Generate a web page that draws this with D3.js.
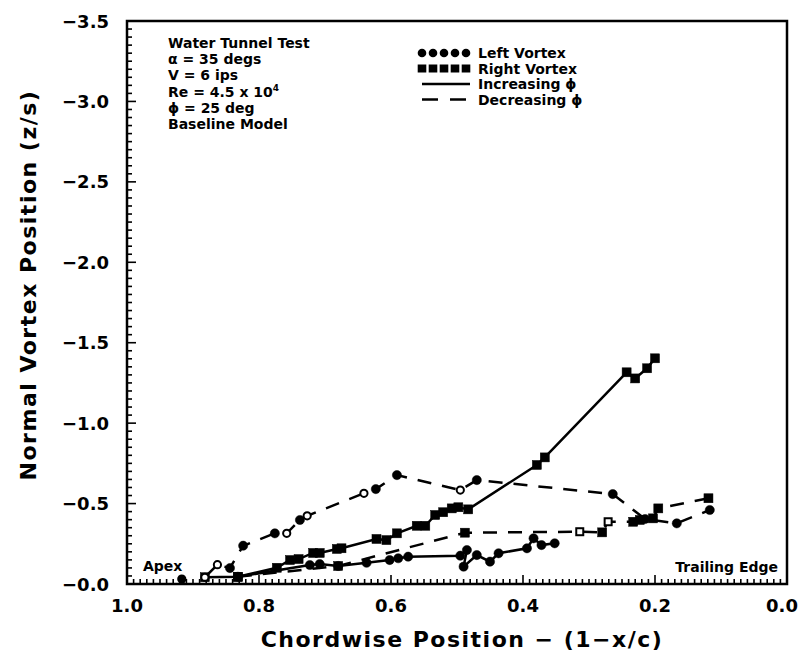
<!DOCTYPE html>
<html>
<head>
<meta charset="utf-8">
<script src="https://cdn.jsdelivr.net/npm/d3@7"></script>
<style>
  html, body { margin: 0; padding: 0; background: #fff; }
  svg { display: block; }
  text { font-family: "DejaVu Sans", "Liberation Sans", sans-serif; font-weight: bold; fill: #000; }
</style>
</head>
<body>
<svg id="chart" width="801" height="656"></svg>
<script>
// Chordwise position (1 - x/c) and normal position (z/s) of the vortex cores.
// Left vortex, increasing roll angle (solid line, circles)
const leftIncX = [0.832, 0.723, 0.708, 0.680, 0.637, 0.602, 0.589, 0.574, 0.495, 0.485, 0.490, 0.470, 0.450, 0.437, 0.394, 0.384, 0.372, 0.352];
const leftIncY = [-0.045, -0.118, -0.124, -0.112, -0.132, -0.149, -0.160, -0.170, -0.176, -0.211, -0.108, -0.180, -0.139, -0.191, -0.222, -0.284, -0.242, -0.253];

// Right vortex, increasing roll angle (solid line, squares)
const rightIncX = [0.882, 0.832, 0.773, 0.753, 0.740, 0.718, 0.708, 0.682, 0.675, 0.622, 0.607, 0.591, 0.561, 0.548, 0.533, 0.521, 0.508, 0.498, 0.483, 0.379, 0.367, 0.243, 0.230, 0.212, 0.200];
const rightIncY = [-0.042, -0.045, -0.101, -0.149, -0.155, -0.193, -0.193, -0.218, -0.222, -0.280, -0.273, -0.315, -0.362, -0.362, -0.429, -0.446, -0.470, -0.477, -0.464, -0.740, -0.787, -1.316, -1.278, -1.341, -1.403];

// Left vortex, decreasing roll angle (dashed line, circles; some hollow)
const leftDecX = [0.882, 0.863, 0.844, 0.824, 0.776, 0.758, 0.738, 0.727, 0.641, 0.623, 0.591, 0.495, 0.470, 0.264, 0.215, 0.167, 0.117];
const leftDecY = [-0.042, -0.120, -0.099, -0.238, -0.315, -0.315, -0.398, -0.424, -0.564, -0.590, -0.677, -0.584, -0.646, -0.559, -0.404, -0.377, -0.460];
const leftDecOpen = [true, true, false, false, false, true, false, true, true, false, false, true, false, false, false, false, false];

// Right vortex, decreasing roll angle (dashed line, squares; some hollow)
const rightDecX = [0.832, 0.680, 0.488, 0.314, 0.280, 0.271, 0.233, 0.223, 0.203, 0.195, 0.119];
const rightDecY = [-0.045, -0.112, -0.319, -0.325, -0.321, -0.387, -0.387, -0.398, -0.408, -0.470, -0.533];
const rightDecOpen = [false, false, false, true, false, true, false, false, false, false, false];

// Isolated reading near the apex
const apexX = [0.917];
const apexY = [-0.031];

// Axis ticks
const xTickValues = [1.0, 0.8, 0.6, 0.4, 0.2, 0.0];
const xTickLabels = ["1.0", "0.8", "0.6", "0.4", "0.2", "0.0"];
const yTickValues = [0, -0.5, -1.0, -1.5, -2.0, -2.5, -3.0, -3.5];
const yTickLabels = ["\u22120.0", "\u22120.5", "\u22121.0", "\u22121.5", "\u22122.0", "\u22122.5", "\u22123.0", "\u22123.5"];

// Annotation block and legend
const infoLines = ["Water Tunnel Test", "\u03b1 = 35 degs", "V = 6 ips", "Re = 4.5 x 10", "\u03d5 = 25 deg", "Baseline Model"];
const legendLabels = ["Left Vortex", "Right Vortex", "Increasing \u03d5", "Decreasing \u03d5"];

const svg = d3.select("#chart");
const plotL = 127, plotR = 787, plotT = 21, plotB = 584;

const x = d3.scaleLinear().domain([1.0, 0.0]).range([plotL, plotR]);
const y = d3.scaleLinear().domain([0, -3.5]).range([plotB, plotT]);

// Minor ticks pointing into the plot
const xMinor = d3.range(0, 101).map(i => i / 100);
const yMinor = d3.range(0, 71).map(i => -i / 20);

svg.append("g").selectAll("line").data(xMinor).join("line")
  .attr("x1", d => x(d)).attr("x2", d => x(d))
  .attr("y1", plotB).attr("y2", d => plotB - (Math.abs(Math.round(d * 100) % 20) === 0 ? 9 : 5))
  .attr("stroke", "#000").attr("stroke-width", 1.6);
svg.append("g").selectAll("line").data(yMinor).join("line")
  .attr("y1", d => y(d)).attr("y2", d => y(d))
  .attr("x1", plotL).attr("x2", d => plotL + (Math.abs(Math.round(d * 20) % 10) === 0 ? 9 : 5))
  .attr("stroke", "#000").attr("stroke-width", 1.6);

// Frame
svg.append("rect").attr("x", plotL).attr("y", plotT)
  .attr("width", plotR - plotL).attr("height", plotB - plotT)
  .attr("fill", "none").attr("stroke", "#000").attr("stroke-width", 2.5);

// Tick labels (the last one is pulled in so it stays inside the page)
svg.append("g").selectAll("text").data(xTickValues).join("text")
  .attr("x", d => x(d)).attr("y", 612)
  .attr("dx", d => d === 0 ? -5 : 0)
  .attr("text-anchor", "middle").attr("font-size", 18)
  .text((d, i) => xTickLabels[i]);
svg.append("g").selectAll("text").data(yTickValues).join("text")
  .attr("x", 109).attr("y", d => y(d) + 6.5)
  .attr("text-anchor", "end").attr("font-size", 18)
  .text((d, i) => yTickLabels[i]);

// Axis titles
svg.append("text").attr("x", 462).attr("y", 647)
  .attr("text-anchor", "middle").attr("font-size", 22).attr("letter-spacing", 1.5)
  .text("Chordwise Position  \u2212  (1\u2212x/c)");
svg.append("text").attr("transform", "translate(36,285) rotate(-90)")
  .attr("text-anchor", "middle").attr("font-size", 22).attr("letter-spacing", 1.5)
  .text("Normal Vortex Position  (z/s)");

// Series
const lineGen = d3.line().x(d => x(d[0])).y(d => y(d[1]));
function pts(xs, ys) { return xs.map((v, i) => [v, ys[i]]); }

const series = [
  { xs: leftIncX, ys: leftIncY, dash: null, shape: "circle", open: [] },
  { xs: rightIncX, ys: rightIncY, dash: null, shape: "square", open: [] },
  { xs: leftDecX, ys: leftDecY, dash: "14,11", shape: "circle", open: leftDecOpen },
  { xs: rightDecX, ys: rightDecY, dash: "14,11", shape: "square", open: rightDecOpen }
];

const plot = svg.append("g");
series.forEach(s => {
  plot.append("path").datum(pts(s.xs, s.ys))
    .attr("d", lineGen).attr("fill", "none").attr("stroke", "#000")
    .attr("stroke-width", 2.5).attr("stroke-dasharray", s.dash);
});
series.forEach(s => {
  const data = pts(s.xs, s.ys).map((p, i) => ({ p, open: !!s.open[i] }));
  if (s.shape === "circle") {
    plot.append("g").selectAll("circle").data(data).join("circle")
      .attr("cx", d => x(d.p[0])).attr("cy", d => y(d.p[1]))
      .attr("r", d => d.open ? 3.6 : 4.6)
      .attr("fill", d => d.open ? "#fff" : "#000")
      .attr("stroke", "#000").attr("stroke-width", d => d.open ? 2 : 0.5);
  } else {
    plot.append("g").selectAll("rect").data(data).join("rect")
      .attr("x", d => x(d.p[0]) - (d.open ? 3.5 : 4.5)).attr("y", d => y(d.p[1]) - (d.open ? 3.5 : 4.5))
      .attr("width", d => d.open ? 7 : 9).attr("height", d => d.open ? 7 : 9)
      .attr("fill", d => d.open ? "#fff" : "#000")
      .attr("stroke", "#000").attr("stroke-width", d => d.open ? 2 : 0.5);
  }
});
plot.append("g").selectAll("circle").data(pts(apexX, apexY)).join("circle")
  .attr("cx", d => x(d[0])).attr("cy", d => y(d[1])).attr("r", 4.6).attr("fill", "#000");

// Region labels
svg.append("text").attr("x", 143).attr("y", 571).attr("font-size", 14).text("Apex");
svg.append("text").attr("x", 778).attr("y", 572).attr("text-anchor", "end").attr("font-size", 14).text("Trailing  Edge");

// Test conditions
const info = svg.append("g");
infoLines.forEach((t, i) => {
  const tx = info.append("text").attr("x", 168).attr("y", 48 + i * 16.2).attr("font-size", 14).text(t);
  if (i === 3) tx.append("tspan").attr("dy", -6).attr("font-size", 9).text("4");
});

// Legend
const lg = svg.append("g");
const legX0 = 418, legX1 = 470, legY0 = 53, legDy = 15.5;
legendLabels.forEach((t, i) => {
  lg.append("text").attr("x", 478).attr("y", legY0 + i * legDy + 5).attr("font-size", 14).text(t);
});
const legDots = d3.range(5).map(i => legX0 + 4 + i * 11);
lg.append("g").selectAll("circle").data(legDots).join("circle")
  .attr("cx", d => d).attr("cy", legY0).attr("r", 4.3).attr("fill", "#000");
lg.append("g").selectAll("rect").data(legDots).join("rect")
  .attr("x", d => d - 4.3).attr("y", legY0 + legDy - 4).attr("width", 8.6).attr("height", 8).attr("fill", "#000");
lg.append("line").attr("x1", legX0 + 4).attr("x2", legX1)
  .attr("y1", legY0 + 2 * legDy).attr("y2", legY0 + 2 * legDy)
  .attr("stroke", "#000").attr("stroke-width", 2.5);
lg.append("line").attr("x1", legX0 + 4).attr("x2", legX1)
  .attr("y1", legY0 + 3 * legDy).attr("y2", legY0 + 3 * legDy)
  .attr("stroke", "#000").attr("stroke-width", 2.5).attr("stroke-dasharray", "16,12");
</script>
</body>
</html>
